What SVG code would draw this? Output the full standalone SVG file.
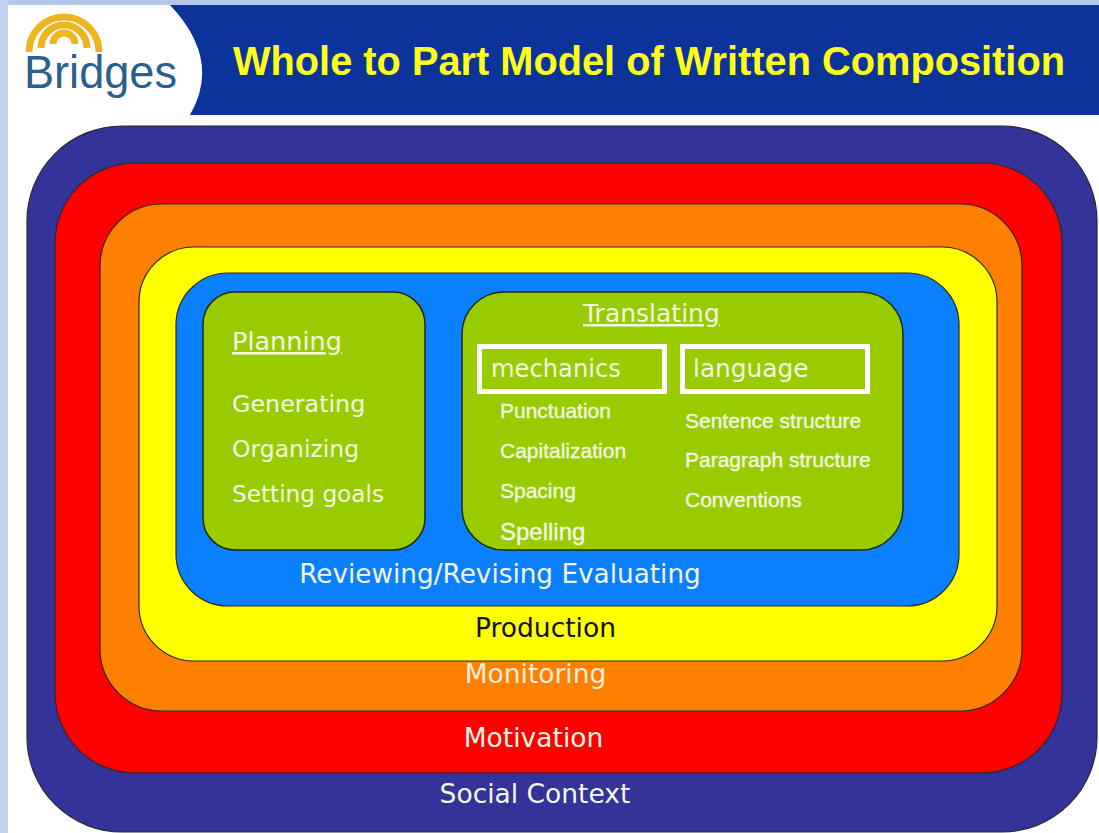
<svg xmlns="http://www.w3.org/2000/svg" width="1099" height="833" viewBox="0 0 1099 833">
<style>
.band{stroke:#2a2a2a;stroke-width:1.2}
.box{fill:#99cc00;stroke:#1f2a10;stroke-width:1.5}
.cg{font-family:"DejaVu Sans","Liberation Sans",sans-serif;fill:#f2f7e4}
.ar{font-family:"Liberation Sans",Arial,sans-serif;fill:#f2f7e4;font-size:21px;stroke:#f2f7e4;stroke-width:0.35}
.frame{fill:none;stroke:#ffffff;stroke-width:5}
</style>
<rect x="0" y="0" width="1099" height="833" fill="#ffffff"/>
<rect x="0" y="0" width="1099" height="5" fill="#b4c6ea"/>
<rect x="0" y="0" width="8" height="833" fill="#c4d2f0"/>

<g id="header">
<path d="M170,5 H1099 V115 H190 Q222,60 170,5 Z" fill="#0b3399"/>
<text x="233" y="75" font-family="'Liberation Sans',Arial,sans-serif" font-weight="bold" font-size="40" fill="#ffff1a" textLength="832" lengthAdjust="spacingAndGlyphs">Whole to Part Model of Written Composition</text>
</g>

<g id="logo">
<g fill="none" stroke="#eeb51e" stroke-width="7" stroke-linecap="butt">
<path d="M29,52 A35,35 0 0 1 99,52"/>
<path d="M41,48 A23,23 0 0 1 87,48"/>
<path d="M53,44 A11,11 0 0 1 75,44"/>
</g>
<text x="24" y="88" font-family="'Liberation Sans',Arial,sans-serif" font-size="46" fill="#2b5f8c" textLength="153" lengthAdjust="spacingAndGlyphs">Bridges</text>
</g>

<g id="social-context">
<rect class="band" x="27" y="126" width="1070" height="706" rx="95" fill="#333399"/>
<text class="cg" x="535" y="803" font-size="26.5" text-anchor="middle">Social Context</text>
</g>
<g id="motivation">
<rect class="band" x="55" y="163" width="1007" height="610" rx="80" fill="#ff0000"/>
<text class="cg" x="533.5" y="747" font-size="26.5" text-anchor="middle">Motivation</text>
</g>
<g id="monitoring">
<rect class="band" x="100" y="204" width="922" height="507" rx="62" fill="#ff8000"/>
<text class="cg" x="535.5" y="683" font-size="26.5" text-anchor="middle" style="fill:#ffeede">Monitoring</text>
</g>
<g id="production">
<rect class="band" x="139" y="247" width="858" height="414" rx="55" fill="#ffff00"/>
<text x="545.5" y="637" font-family="'DejaVu Sans','Liberation Sans',sans-serif" font-size="26.5" text-anchor="middle" fill="#111111">Production</text>
</g>
<g id="reviewing">
<rect class="band" x="176" y="273" width="783" height="333" rx="52" fill="#0a80ff"/>
<text class="cg" x="500" y="583" font-size="26.3" text-anchor="middle">Reviewing/Revising Evaluating</text>
</g>

<g id="planning">
<rect class="box" x="203" y="292" width="222" height="258" rx="32"/>
<text class="cg" x="232" y="350" font-size="25.5" text-decoration="underline">Planning</text>
<text class="cg" x="232" y="412" font-size="23.8">Generating</text>
<text class="cg" x="232" y="457" font-size="23.5">Organizing</text>
<text class="cg" x="232" y="502" font-size="23.2">Setting goals</text>
</g>

<g id="translating">
<rect class="box" x="462" y="292" width="441" height="258" rx="42"/>
<text class="cg" x="583" y="322" font-size="25" text-decoration="underline">Translating</text>
<g id="mechanics">
<rect class="frame" x="479.5" y="346.5" width="185" height="45"/>
<text class="cg" x="491" y="377" font-size="24.2">mechanics</text>
<text class="ar" x="500" y="418">Punctuation</text>
<text class="ar" x="500" y="458">Capitalization</text>
<text class="ar" x="500" y="498">Spacing</text>
<text class="ar" x="500" y="540" style="font-size:24px">Spelling</text>
</g>
<g id="language">
<rect class="frame" x="682.5" y="346.5" width="185" height="45"/>
<text class="cg" x="693" y="377" font-size="24.8">language</text>
<text class="ar" x="685" y="428">Sentence structure</text>
<text class="ar" x="685" y="467">Paragraph structure</text>
<text class="ar" x="685" y="507">Conventions</text>
</g>
</g>

<g id="connectors"></g>
</svg>
